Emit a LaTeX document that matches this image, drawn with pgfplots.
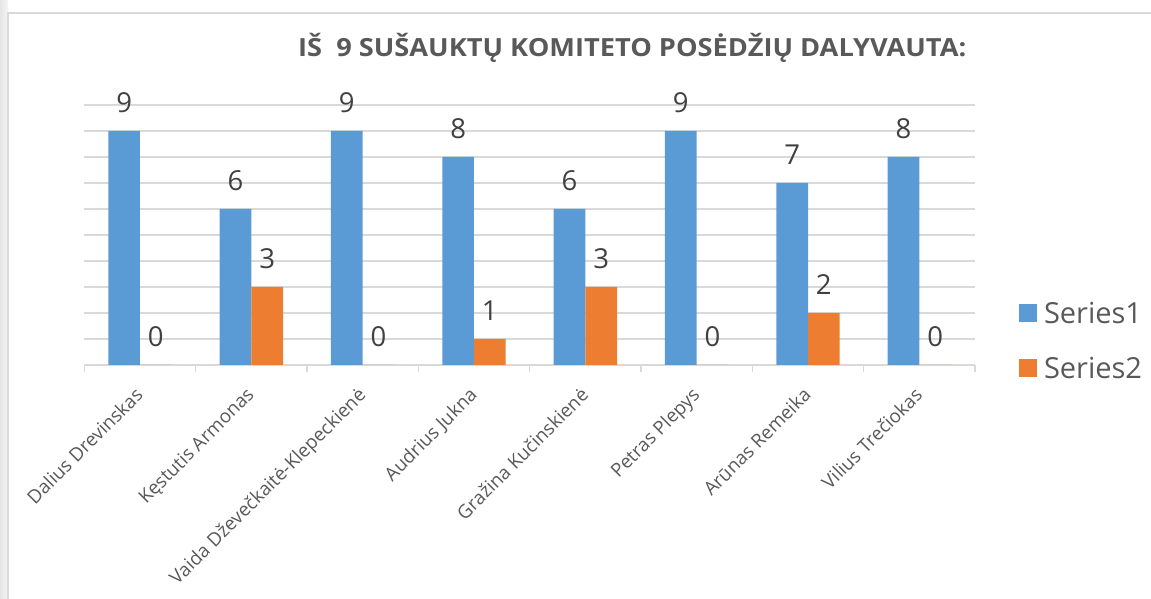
\documentclass[border=0pt]{standalone}
\usepackage{graphicx}
\usepackage{pgfplots}
\pgfplotsset{compat=1.18}
\usepackage{fontspec}
\setmainfont{Open Sans}
\definecolor{sblue}{HTML}{5B9BD5}
\definecolor{sorange}{HTML}{ED7D31}
\definecolor{gridc}{HTML}{D9D9D9}
\definecolor{txt}{HTML}{595959}
\definecolor{lbl}{HTML}{404040}
\begin{document}
\begin{tikzpicture}
\useasboundingbox (0pt,0pt) rectangle (1151pt,599pt);
\shade[left color=black!10, right color=black!4] (0pt,0pt) rectangle (8pt,599pt);
\draw[gridc, line width=1.5pt] (8pt,0pt) -- (8pt,586pt) -- (1151pt,586pt);
\node[anchor=base west, text=txt, inner sep=0] at (298pt,542pt) {\scalebox{1.088}[1]{\fontsize{25}{30}\selectfont\bfseries IŠ\ \ 9 SUŠAUKTŲ KOMITETO POSĖDŽIŲ DALYVAUTA:}};
\begin{axis}[
  at={(84.3pt,234pt)}, anchor=south west,
  scale only axis, width=890.7pt, height=260pt,
  xmin=-0.5, xmax=7.5, ymin=0, ymax=10,
  ybar=0pt, bar width=31.7pt,
  axis line style={draw=none},
  ymajorgrids, ytick={0,1,...,10}, yticklabels={},
  grid style={gridc, line width=1.3pt},
  xtick={0,...,7},
  xticklabels={Dalius Drevinskas, Kęstutis Armonas, Vaida Dževečkaitė-Klepeckienė, Audrius Jukna, Gražina Kučinskienė, Petras Plepys, Arūnas Remeika, Vilius Trečiokas},
  minor xtick={-0.5,0.5,...,7.5},
  xtick pos=bottom, ytick pos=left,
  tick align=outside,
  major tick length=0pt, minor tick length=7pt,
  minor tick style={gridc, line width=1.3pt},
  xticklabel style={xshift=-6pt, yshift=-21pt, rotate=45, anchor=north east, inner sep=0pt, font=\fontsize{18.8}{22}\selectfont, text=txt},
  /pgf/number format/assume math mode=true,
  nodes near coords,
  every node near coord/.append style={font=\fontsize{27.5}{32}\selectfont, text=lbl, anchor=south, inner sep=0pt, yshift=18pt},
  legend style={at={(1.0494,0.0942)}, anchor=west, draw=none, fill=none, inner sep=0pt, outer sep=0pt,
    font=\fontsize{29}{34}\selectfont, text=txt,
    nodes={inner xsep=7pt, inner ysep=0pt, text height=20.7pt, text depth=0pt},
    row sep=34.3pt},
  legend cell align=left,
]
\addplot[fill=sblue, draw=none, legend image code/.code={\fill[sblue] (0pt,-9pt) rectangle (18pt,9pt);}]
  coordinates {(0,9) (1,6) (2,9) (3,8) (4,6) (5,9) (6,7) (7,8)};
\addplot[fill=sorange, draw=none, legend image code/.code={\fill[sorange] (0pt,-9pt) rectangle (18pt,9pt);}]
  coordinates {(0,0) (1,3) (2,0) (3,1) (4,3) (5,0) (6,2) (7,0)};
\legend{Series1, Series2}
\end{axis}
\end{tikzpicture}
\end{document}
